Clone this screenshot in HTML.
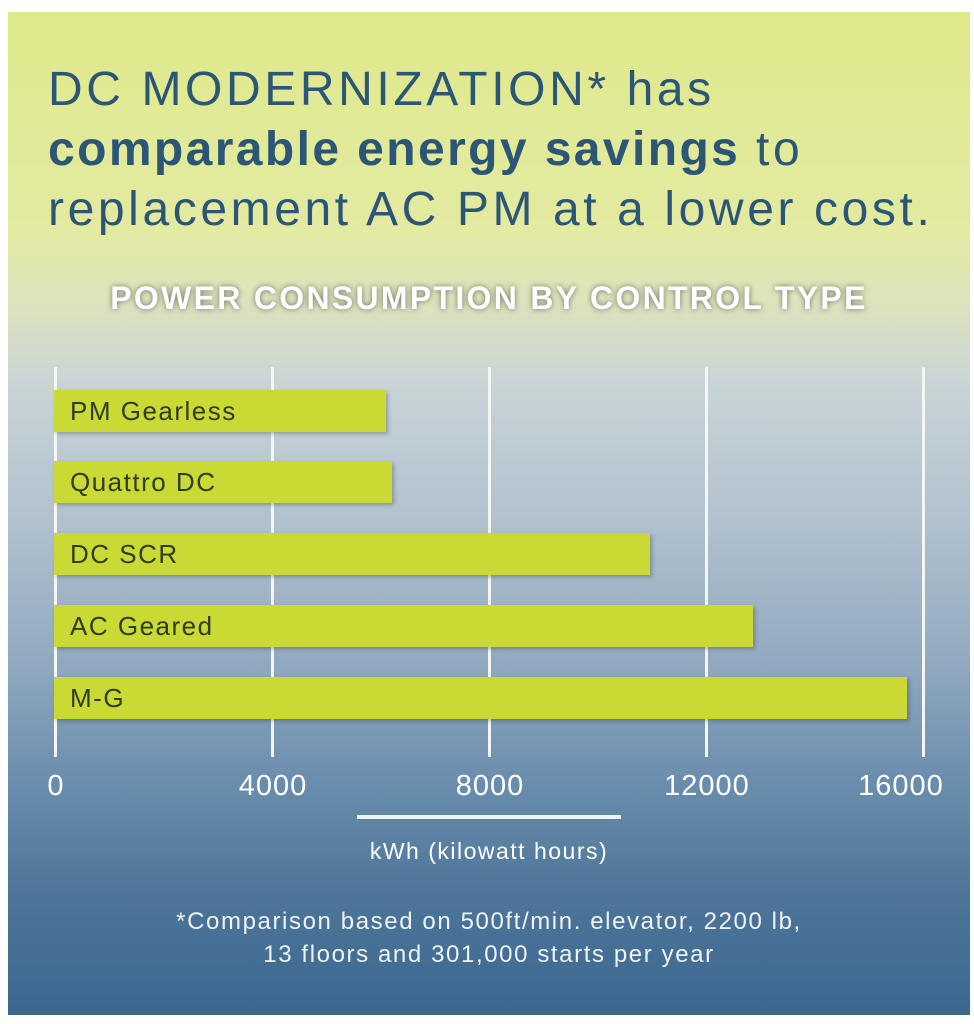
<!DOCTYPE html>
<html><head><style>
body{margin:0;background:#fff;width:974px;height:1024px;position:relative;overflow:hidden;font-family:"Liberation Sans",sans-serif}
#p{position:absolute;left:8px;top:12px;width:962px;height:1003px;background:linear-gradient(180deg,#dfe98a 0%,#e3eaa2 22%,#dde3bd 29%,#c9d4d6 37%,#b2c2cf 50%,#94abc1 64%,#6c8fae 76%,#4d7599 88%,#3c6890 100%)}
.t{position:absolute;left:40px;color:#2b5676;font-size:48px;white-space:nowrap;letter-spacing:3.6px}
.g{position:absolute;top:355px;width:3px;height:390px;background:#f4f6f4}
.b{position:absolute;left:46px;height:42px;background:#cbd935;box-shadow:2px 2px 4px rgba(0,0,0,.25)}
.b span{position:absolute;left:16px;top:6px;font-size:26px;letter-spacing:1.5px;color:#2d3d1d;white-space:nowrap}
.x{position:absolute;top:758px;color:#fff;font-size:29px;letter-spacing:1px;width:130px;text-align:center}
</style></head><body><div id="p">
<div class="t" style="top:50px">DC MODERNIZATION* has</div>
<div class="t" style="top:110px;font-weight:bold;letter-spacing:2.4px">comparable energy savings <span style="font-weight:normal;letter-spacing:3.6px">to</span></div>
<div class="t" style="top:170px">replacement AC PM at a lower cost.</div>
<div style="position:absolute;top:268px;left:0;width:962px;text-align:center;color:#fff;font-size:32px;font-weight:bold;letter-spacing:2.3px;text-shadow:0 0 6px rgba(80,80,80,.8)">POWER CONSUMPTION BY CONTROL TYPE</div>
<div class="g" style="left:46px"></div><div class="g" style="left:263px"></div><div class="g" style="left:480px"></div><div class="g" style="left:697px"></div><div class="g" style="left:914px"></div>
<div class="b" style="top:378px;width:332px"><span>PM Gearless</span></div>
<div class="b" style="top:449px;width:338px"><span>Quattro DC</span></div>
<div class="b" style="top:521px;width:596px"><span>DC SCR</span></div>
<div class="b" style="top:593px;width:699px"><span>AC Geared</span></div>
<div class="b" style="top:665px;width:853px"><span>M-G</span></div>
<div class="x" style="left:-17px">0</div><div class="x" style="left:200px">4000</div><div class="x" style="left:417px">8000</div><div class="x" style="left:634px">12000</div><div class="x" style="left:828px">16000</div>
<div style="position:absolute;left:349px;top:803px;width:264px;height:4px;background:#eef2f4"></div>
<div style="position:absolute;top:826px;left:0;width:962px;text-align:center;color:#fff;font-size:23px;letter-spacing:1.5px">kWh (kilowatt hours)</div>
<div style="position:absolute;top:893px;left:0;width:962px;text-align:center;color:#f0f3f5;font-size:24px;letter-spacing:1.6px;line-height:33px">*Comparison based on 500ft/min. elevator, 2200 lb,<br>13 floors and 301,000 starts per year</div>
</div></body></html>
